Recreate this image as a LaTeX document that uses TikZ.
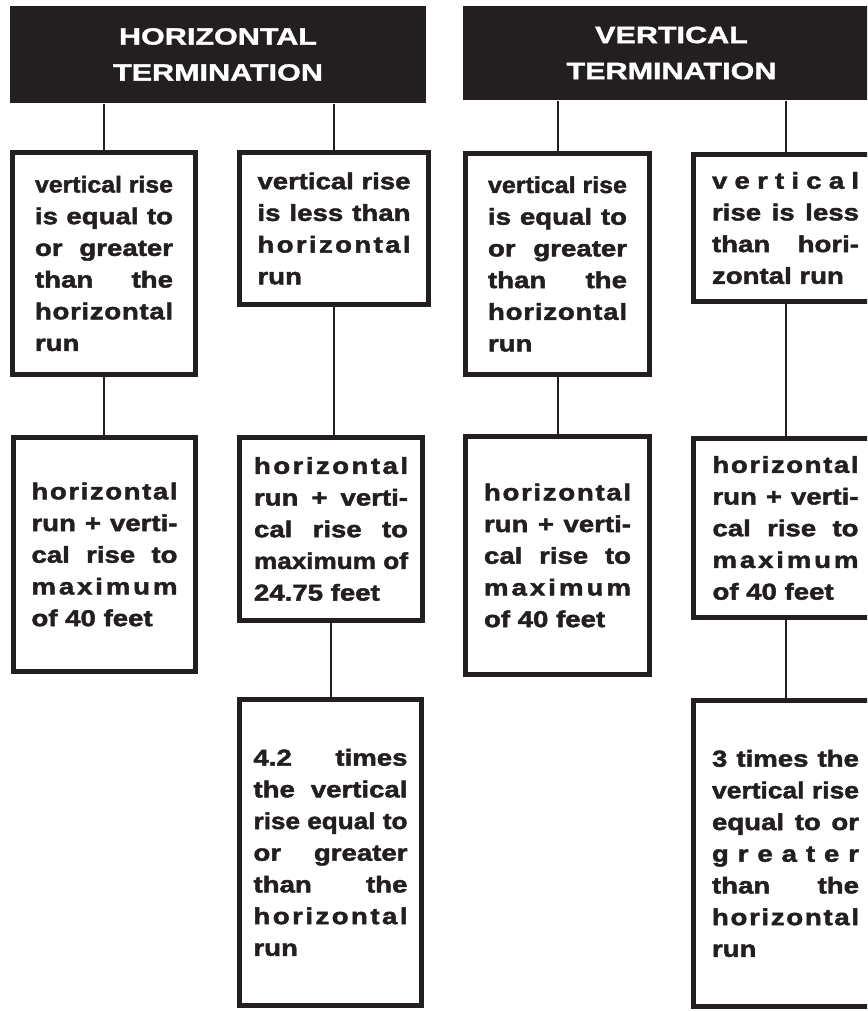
\documentclass[tikz,border=0pt]{standalone}
\usepackage{fontspec}
\usepackage{graphicx}
\newfontfamily\boxfont{Liberation Sans}[FakeStretch=1.2,
  BoldFont={Liberation Sans Bold}, BoldFeatures={FakeStretch=1.2, FakeBold=2}]
\newfontfamily\hdrfont{Liberation Sans}[FakeStretch=1.3,
  BoldFont={Liberation Sans Bold}, BoldFeatures={FakeStretch=1.3, FakeBold=1.5}]
\definecolor{ink}{HTML}{231F20}
\newlength\jlwd
\newcommand\jline[1]{\noindent\settowidth\jlwd{#1}%
  \ifdim\jlwd>\linewidth\resizebox{\linewidth}{\height}{#1}%
  \else\makebox[\linewidth][s]{\spaceskip=.28em plus 1fil\relax#1}\fi\par}
\newcommand\lastl[1]{\noindent#1\par}
\def\lsword#1{\lswordA#1\lswordEnd}
\def\lswordA#1#2\lswordEnd{#1\if\relax\detokenize{#2}\relax\else\hfill\lswordA#2\lswordEnd\fi}

\begin{document}
\begin{tikzpicture}[x=1pt, y=-1pt, ink, line width=2pt,
  hdr/.style={fill=ink, text=white, inner sep=0pt, align=center,
    font=\hdrfont\bfseries\fontsize{23.5}{36}\selectfont},
  cell/.style args={#1/#2/#3}{draw=ink, line width=5pt, fill=white, inner sep=0pt,
    minimum width=#1, minimum height=#2, text width=#3, text=ink,
    font=\boxfont\bfseries\fontsize{23}{31.7}\selectfont}]
\path[use as bounding box] (0,0) rectangle (867,1011);
\clip (0,0) rectangle (867,1011);

\node[hdr, minimum width=416, minimum height=97] (H1) at (218,54.5) {HORIZONTAL\\TERMINATION};
\node[hdr, minimum width=417, minimum height=94] (H2) at (671.5,53) {VERTICAL\\TERMINATION};

\node[cell={183/222/138}] (A1) at (104,263.5)
  {\jline{vertical rise}\jline{is equal to}\jline{or greater}\jline{than the}\jline{\lsword{horizontal}}\lastl{run}};
\node[cell={189/152/153}] (A2) at (334,228.5)
  {\jline{vertical rise}\jline{is less than}\jline{\lsword{horizontal}}\lastl{run}};
\node[cell={182/234/146}] (B1) at (104.5,554.5)
  {\jline{\lsword{horizontal}}\jline{run + verti-}\jline{cal rise to}\jline{\lsword{maximum}}\lastl{of 40 feet}};
\node[cell={183/183/154}] (B2) at (331,529)
  {\jline{\lsword{horizontal}}\jline{run + verti-}\jline{cal rise to}\jline{maximum of}\lastl{24.75 feet}};
\node[cell={182/306/154}] (C2) at (330.5,852.5)
  {\jline{4.2 times}\jline{the vertical}\jline{rise equal to}\jline{or greater}\jline{than the}\jline{\lsword{horizontal}}\lastl{run}};

\node[cell={184/221/139}] (D1) at (557.5,264)
  {\jline{vertical rise}\jline{is equal to}\jline{or greater}\jline{than the}\jline{\lsword{horizontal}}\lastl{run}};
\node[cell={184/147/147}] (D2) at (785.5,228)
  {\jline{\lsword{vertical}}\jline{rise is less}\jline{than hori-}\lastl{zontal run}};
\node[cell={184/238/147}] (E1) at (557.5,555.5)
  {\jline{\lsword{horizontal}}\jline{run + verti-}\jline{cal rise to}\jline{\lsword{maximum}}\lastl{of 40 feet}};
\node[cell={184/179/146}] (E2) at (785.5,528)
  {\jline{\lsword{horizontal}}\jline{run + verti-}\jline{cal rise to}\jline{\lsword{maximum}}\lastl{of 40 feet}};
\node[cell={184/306/147}] (F2) at (785.5,853.5)
  {\jline{3 times the}\jline{vertical rise}\jline{equal to or}\jline{\lsword{greater}}\jline{than the}\jline{\lsword{horizontal}}\lastl{run}};

\draw (A1.north) -- (A1.north |- H1.south);
\draw (A2.north) -- (A2.north |- H1.south);
\draw (A1.south) -- (A1.south |- B1.north);
\draw (A2.south) -- (A2.south |- B2.north);
\draw (B2.south) -- (B2.south |- C2.north);
\draw (D1.north) -- (D1.north |- H2.south);
\draw (D2.north) -- (D2.north |- H2.south);
\draw (D1.south) -- (D1.south |- E1.north);
\draw (D2.south) -- (D2.south |- E2.north);
\draw (E2.south) -- (E2.south |- F2.north);
\end{tikzpicture}
\end{document}
